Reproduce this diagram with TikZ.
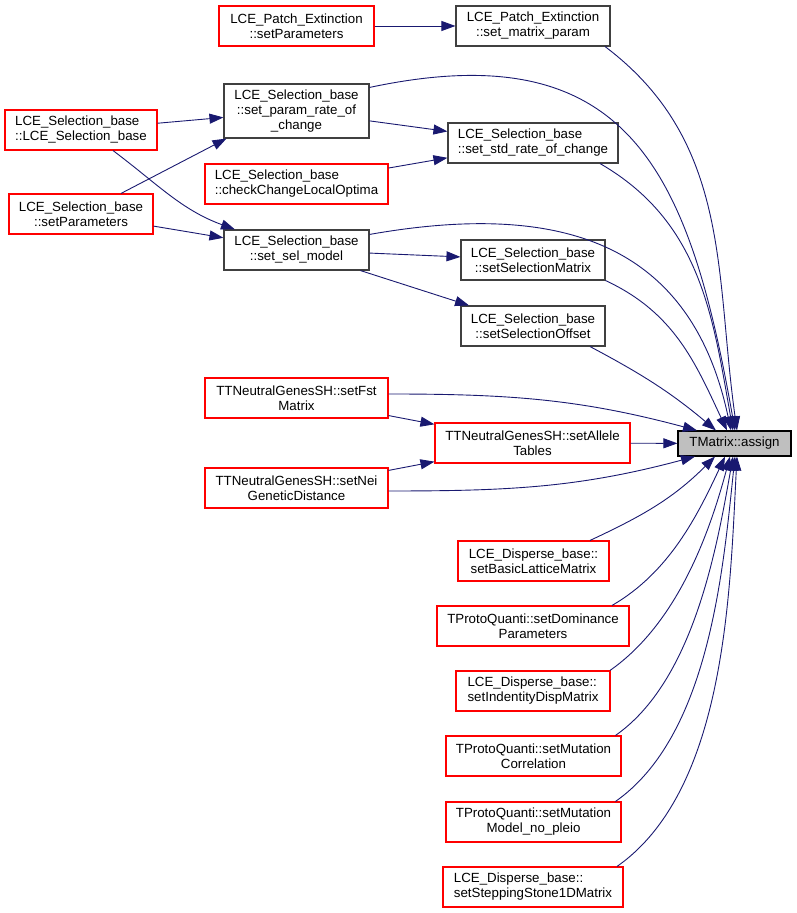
\documentclass[tikz,border=0pt]{standalone}
\usepackage{fontspec}
\setmainfont{Liberation Sans}
\usetikzlibrary{arrows.meta}
\definecolor{edgeblue}{HTML}{191970}
\definecolor{boxgray}{HTML}{404040}
\definecolor{fillgray}{HTML}{BFBFBF}
\definecolor{boxred}{HTML}{FF0000}

\begin{document}
\begin{tikzpicture}[x=1pt, y=1pt,
            font=\fontsize{13.3}{15}\selectfont,
            fn/.style={draw=boxgray, line width=1.1pt, rectangle, minimum height=40pt, inner sep=2pt, align=center},
            fnred/.style={fn, draw=boxred},
            callto/.style={draw=edgeblue, line width=0.9pt, -{Triangle[length=14pt, width=10pt]}}
            ]
        \useasboundingbox (0,0) rectangle (796,913);

        % callers, left and middle columns
        \node[fnred, minimum width=155pt] (peSet) at (296.5,887) {LCE\_Patch\_Extinction\\::setParameters};
        \node[fn, minimum width=154pt] (peMat) at (533,887) {LCE\_Patch\_Extinction\\::set\_matrix\_param};
        \node[fn, minimum width=145pt, minimum height=54pt] (rate) at (296.5,802) {LCE\_Selection\_base\\::set\_param\_rate\_of\\\_change};
        \node[fnred, minimum width=152pt, align=left] (ctor) at (81,783) {LCE\_Selection\_base\\::LCE\_Selection\_base};
        \node[fnred, minimum width=183pt, align=left] (check) at (296.5,729) {LCE\_Selection\_base\\::checkChangeLocalOptima};
        \node[fn, minimum width=170pt, align=left] (std) at (533,770) {LCE\_Selection\_base\\::set\_std\_rate\_of\_change};
        \node[fnred, minimum width=144pt] (selPar) at (81,699) {LCE\_Selection\_base\\::setParameters};
        \node[fn, minimum width=145pt] (selModel) at (296.5,663) {LCE\_Selection\_base\\::set\_sel\_model};
        \node[fn, minimum width=144pt] (selMat) at (533,653) {LCE\_Selection\_base\\::setSelectionMatrix};
        \node[fn, minimum width=144pt] (selOff) at (533,587) {LCE\_Selection\_base\\::setSelectionOffset};
        \node[fnred, minimum width=183pt] (fst) at (296.5,515) {TTNeutralGenesSH::setFst\\Matrix};
        \node[fnred, minimum width=195pt] (allele) at (532.5,470) {TTNeutralGenesSH::setAllele\\Tables};
        \node[fnred, minimum width=183pt] (nei) at (296.5,425) {TTNeutralGenesSH::setNei\\GeneticDistance};
        \node[fnred, minimum width=151pt] (basic) at (533.5,352) {LCE\_Disperse\_base::\\setBasicLatticeMatrix};
        \node[fnred, minimum width=192pt] (dom) at (533,287) {TProtoQuanti::setDominance\\Parameters};
        \node[fnred, minimum width=154pt, align=left] (ident) at (533,222) {LCE\_Disperse\_base::\\setIndentityDispMatrix};
        \node[fnred, minimum width=175pt] (mcorr) at (533.5,157) {TProtoQuanti::setMutation\\Correlation};
        \node[fnred, minimum width=175pt] (mmodel) at (533.5,91) {TProtoQuanti::setMutation\\Model\_no\_pleio};
        \node[fnred, minimum width=180pt, align=left] (stepping) at (533,26) {LCE\_Disperse\_base::\\setSteppingStone1DMatrix};

        % the called function
        \node[fn, draw=black, fill=fillgray, minimum width=113pt, minimum height=25pt] (assign) at (734.5,469.5) {TMatrix::assign};

        % straight calls
        \draw[callto] (peSet) -- (peMat);
        \draw[callto] (rate) -- (std);
        \draw[callto] (ctor) -- (rate);
        \draw[callto] ([xshift=40pt]selPar.north) -- ([xshift=-70pt]rate.south);
        \draw[callto] (selPar) -- (selModel);
        \draw[callto] (check) -- (std);
        \draw[callto] (selModel) -- (selMat);
        \draw[callto] (selModel) -- (selOff);
        \draw[callto] (fst) -- (allele);
        \draw[callto] (nei) -- (allele);
        \draw[callto] (allele) -- (assign);
        \draw[callto] ([xshift=32pt]ctor.south) to[out=-37, in=160] ([xshift=-61.5pt]selModel.north);

        % curved calls into assign, from above
        \draw[callto] ([xshift=72pt]peMat.south) to[out=-37, in=98] ([xshift=2.5pt]assign.north);
        \draw[callto] ([yshift=-4pt]rate.north east) to[out=12, in=100, looseness=1.35] ([xshift=0.5pt]assign.north);
        \draw[callto] ([xshift=67pt]std.south) to[out=-30, in=100] ([xshift=-1.5pt]assign.north);
        \draw[callto] ([yshift=-5pt]selModel.north east) to[out=10, in=102, looseness=1.2] ([xshift=-3.5pt]assign.north);
        \draw[callto] (selMat.south east) to[out=-25, in=115] ([xshift=-7.5pt]assign.north);
        \draw[callto] ([xshift=57pt]selOff.south) to[out=-28, in=140] ([xshift=-18.5pt]assign.north);
        \draw[callto] ([yshift=4pt]fst.east) to[out=0, in=165] ([xshift=-37.5pt]assign.north);

        % curved calls into assign, from below
        \draw[callto] ([yshift=-3pt]nei.east) to[out=0, in=195] ([xshift=-39.5pt]assign.south);
        \draw[callto] ([xshift=56.5pt]basic.north) to[out=25, in=-135] ([xshift=-19.5pt]assign.south);
        \draw[callto] ([xshift=79pt]dom.north) to[out=30, in=-115, looseness=0.9] ([xshift=-9.5pt]assign.south);
        \draw[callto] ([xshift=77pt]ident.north) to[out=35, in=-105, looseness=0.85] ([xshift=-4.5pt]assign.south);
        \draw[callto] ([xshift=82pt]mcorr.north) to[out=35, in=-100, looseness=0.8] ([xshift=-1.5pt]assign.south);
        \draw[callto] ([xshift=82pt]mmodel.north) to[out=35, in=-96, looseness=0.8] ([xshift=0.5pt]assign.south);
        \draw[callto] ([xshift=84pt]stepping.north) to[out=35, in=-93, looseness=0.8] ([xshift=2.5pt]assign.south);
    \end{tikzpicture}
\end{document}
